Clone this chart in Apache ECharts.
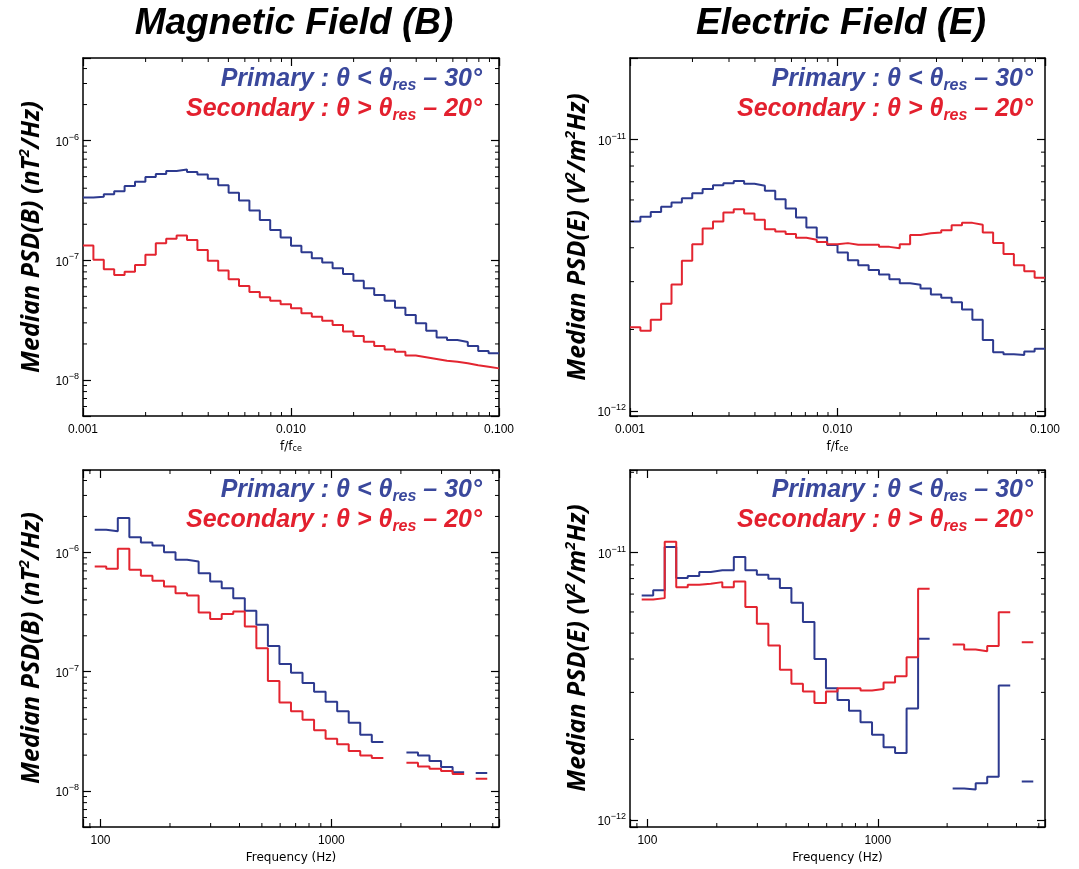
<!DOCTYPE html>
<html>
<head>
<meta charset="utf-8">
<script src="https://cdn.jsdelivr.net/npm/echarts@6/dist/echarts.min.js"></script>
<style>
  html, body { margin: 0; background: #fff; }
  #chart { width: 1079px; height: 869px; }
</style>
</head>
<body>
<div id="chart"></div>
<script>
// median PSD per 0.05-decade bin (null = no data in bin)
const magFcePrimary = [3.34e-7, 3.40e-7, 3.56e-7, 3.78e-7, 4.18e-7, 4.54e-7, 4.97e-7, 5.26e-7, 5.58e-7, 5.73e-7,
  5.47e-7, 5.20e-7, 4.81e-7, 4.23e-7, 3.66e-7, 3.16e-7, 2.60e-7, 2.17e-7, 1.79e-7, 1.55e-7,
  1.32e-7, 1.17e-7, 1.04e-7, 9.57e-8, 8.58e-8, 7.69e-8, 6.76e-8, 5.84e-8, 5.13e-8, 4.60e-8,
  4.02e-8, 3.49e-8, 2.98e-8, 2.58e-8, 2.26e-8, 2.16e-8, 2.08e-8, 1.92e-8, 1.75e-8, 1.67e-8];
const magFceSecondary = [1.33e-7, 1.01e-7, 8.41e-8, 7.54e-8, 8.04e-8, 9.14e-8, 1.11e-7, 1.39e-7, 1.51e-7, 1.61e-7,
  1.48e-7, 1.22e-7, 9.93e-8, 8.20e-8, 6.94e-8, 6.10e-8, 5.43e-8, 4.91e-8, 4.60e-8, 4.29e-8,
  3.97e-8, 3.61e-8, 3.38e-8, 3.13e-8, 2.88e-8, 2.54e-8, 2.33e-8, 2.09e-8, 1.92e-8, 1.80e-8,
  1.72e-8, 1.60e-8, 1.55e-8, 1.50e-8, 1.45e-8, 1.42e-8, 1.38e-8, 1.33e-8, 1.29e-8, 1.25e-8];
const elecFcePrimary = [5.00e-12, 5.20e-12, 5.42e-12, 5.66e-12, 5.87e-12, 6.09e-12, 6.35e-12, 6.58e-12, 6.80e-12, 6.92e-12,
  7.04e-12, 6.88e-12, 6.77e-12, 6.48e-12, 6.04e-12, 5.58e-12, 5.17e-12, 4.75e-12, 4.36e-12, 4.09e-12,
  3.84e-12, 3.60e-12, 3.45e-12, 3.31e-12, 3.19e-12, 3.06e-12, 2.96e-12, 2.92e-12, 2.83e-12, 2.69e-12,
  2.62e-12, 2.52e-12, 2.37e-12, 2.17e-12, 1.83e-12, 1.65e-12, 1.62e-12, 1.61e-12, 1.66e-12, 1.70e-12];
const elecFceSecondary = [2.04e-12, 1.98e-12, 2.17e-12, 2.49e-12, 2.93e-12, 3.58e-12, 4.12e-12, 4.71e-12, 5.00e-12, 5.39e-12,
  5.55e-12, 5.35e-12, 5.07e-12, 4.68e-12, 4.59e-12, 4.49e-12, 4.35e-12, 4.28e-12, 4.20e-12, 4.12e-12,
  4.16e-12, 4.10e-12, 4.10e-12, 4.10e-12, 4.03e-12, 3.98e-12, 4.12e-12, 4.46e-12, 4.52e-12, 4.55e-12,
  4.64e-12, 4.84e-12, 4.94e-12, 4.86e-12, 4.55e-12, 4.16e-12, 3.79e-12, 3.45e-12, 3.28e-12, 3.10e-12];

const magHzPrimary = [1.55e-6, 1.50e-6, 1.94e-6, 1.34e-6, 1.21e-6, 1.14e-6, 1.00e-6, 8.68e-7, 8.40e-7, 6.70e-7,
  5.71e-7, 5.01e-7, 4.13e-7, 3.24e-7, 2.47e-7, 1.64e-7, 1.16e-7, 9.81e-8, 8.03e-8, 6.79e-8,
  5.60e-8, 4.67e-8, 3.73e-8, 2.97e-8, 2.58e-8, null, null, 2.10e-8, 1.99e-8, 1.79e-8,
  1.59e-8, 1.44e-8, null, 1.42e-8];
const magHzSecondary = [7.63e-7, 7.29e-7, 1.07e-6, 7.15e-7, 6.37e-7, 5.78e-7, 5.18e-7, 4.55e-7, 4.35e-7, 3.13e-7,
  2.77e-7, 3.05e-7, 3.19e-7, 2.39e-7, 1.57e-7, 8.35e-8, 5.53e-8, 4.67e-8, 3.95e-8, 3.24e-8,
  2.75e-8, 2.47e-8, 2.17e-8, 1.99e-8, 1.89e-8, null, null, 1.73e-8, 1.61e-8, 1.54e-8,
  1.47e-8, 1.39e-8, null, 1.27e-8];
const elecHzPrimary = [6.92e-12, 7.23e-12, 1.05e-11, 8.04e-12, 8.18e-12, 8.46e-12, 8.59e-12, 8.59e-12, 9.63e-12, 8.59e-12,
  8.27e-12, 7.99e-12, 7.37e-12, 6.49e-12, 5.50e-12, 4.00e-12, 3.11e-12, 2.81e-12, 2.56e-12, 2.32e-12,
  2.08e-12, 1.87e-12, 1.78e-12, 2.61e-12, 4.76e-12, null, null, 1.31e-12, 1.30e-12, 1.37e-12,
  1.45e-12, 3.18e-12, null, 1.39e-12];
const elecHzSecondary = [6.68e-12, 6.76e-12, 1.10e-11, 7.43e-12, 7.59e-12, 7.65e-12, 7.76e-12, 7.43e-12, 7.81e-12, 6.26e-12,
  5.42e-12, 4.49e-12, 3.65e-12, 3.23e-12, 3.02e-12, 2.74e-12, 3.02e-12, 3.11e-12, 3.11e-12, 3.05e-12,
  3.09e-12, 3.27e-12, 3.45e-12, 4.06e-12, 7.33e-12, null, null, 4.53e-12, 4.34e-12, 4.28e-12,
  4.47e-12, 5.99e-12, null, 4.62e-12];

// bin edges: 20 bins per decade
const fceEdges = [];
for (let k = 0; k <= 40; k++) fceEdges.push(Math.pow(10, -3 + 0.05 * k));
const hzEdges = [];
for (let k = 0; k <= 34; k++) hzEdges.push(Math.pow(10, 1.975 + 0.05 * k));

const fceRange = [0.001, 0.1];
const hzRange = [84, 5320];
const magRange = [5e-9, 4.9e-6];
const elecRangeTop = [9.6e-13, 2.0e-11];
const elecRangeBottom = [9.4e-13, 2.04e-11];

const BLUE = "#2d3a8f";
const RED = "#e32530";
const BLUE_TEXT = "#3a489c";
const RED_TEXT = "#e3202e";

const grids = [
  { left: 83, top: 58, width: 416, height: 358 },
  { left: 630, top: 58, width: 415, height: 358 },
  { left: 83, top: 470, width: 416, height: 357 },
  { left: 630, top: 470, width: 415, height: 357 }
];

function stepData(edges, values) {
  const out = [];
  values.forEach((v, k) => {
    if (v == null) {
      out.push([edges[k], "-"]);
      return;
    }
    out.push([edges[k], v], [edges[k + 1], v]);
  });
  return out;
}

function minorValues(min, max) {
  const list = [];
  for (let e = Math.floor(Math.log10(min)); e <= Math.ceil(Math.log10(max)); e++) {
    for (let m = 2; m <= 9; m++) {
      const v = m * Math.pow(10, e);
      if (v > min && v < max) list.push(v);
    }
  }
  return list;
}

function isDecade(v) {
  const e = Math.log10(v);
  return Math.abs(e - Math.round(e)) < 1e-6;
}

const axisLine = { lineStyle: { color: "#000", width: 1.5 } };
const majorTick = { inside: true, length: 8, lineStyle: { color: "#000", width: 1.2 } };

function xAxisPair(i, range, formatter, name) {
  const base = {
    type: "log",
    logBase: 10,
    gridIndex: i,
    min: range[0],
    max: range[1],
    axisLine,
    axisTick: majorTick,
    splitLine: { show: false }
  };
  return [
    {
      ...base,
      position: "bottom",
      axisLabel: {
        margin: 8,
        color: "#000",
        fontSize: 12,
        fontFamily: "Liberation Sans",
        showMinLabel: true,
        showMaxLabel: true,
        formatter
      },
      name,
      nameLocation: "middle",
      nameGap: 25,
      nameTextStyle: {
        color: "#000",
        fontSize: 12,
        fontFamily: "DejaVu Sans",
        rich: { sub: { fontSize: 8, verticalAlign: "bottom", lineHeight: 10, fontFamily: "DejaVu Sans" } }
      }
    },
    { ...base, position: "top", axisLabel: { show: false } }
  ];
}

function yAxisPair(i, range) {
  const base = {
    type: "log",
    logBase: 10,
    gridIndex: i,
    min: range[0],
    max: range[1],
    axisLine,
    axisTick: majorTick,
    splitLine: { show: false }
  };
  return [
    {
      ...base,
      position: "left",
      axisLabel: {
        margin: 4,
        color: "#000",
        showMinLabel: true,
        showMaxLabel: true,
        formatter(v) {
          if (!isDecade(v)) return "";
          return "{b|10}{e|\u2212" + Math.abs(Math.round(Math.log10(v))) + "}";
        },
        rich: {
          b: { fontSize: 12, lineHeight: 16, verticalAlign: "bottom", fontFamily: "Liberation Sans", color: "#000" },
          e: { fontSize: 9, lineHeight: 9, verticalAlign: "top", fontFamily: "Liberation Sans", color: "#000" }
        }
      }
    },
    { ...base, position: "right", axisLabel: { show: false } }
  ];
}

function minorTickSeries(i, xRange, yRange) {
  const xs = minorValues(xRange[0], xRange[1]);
  const ys = minorValues(yRange[0], yRange[1]);
  return {
    type: "custom",
    xAxisIndex: 2 * i,
    yAxisIndex: 2 * i,
    silent: true,
    z: 5,
    data: [[xRange[0], yRange[0]]],
    renderItem(params, api) {
      const cs = params.coordSys;
      const style = { stroke: "#000", lineWidth: 1 };
      const children = [];
      const len = 4;
      xs.forEach((v) => {
        const x = api.coord([v, yRange[0]])[0];
        children.push({ type: "line", shape: { x1: x, y1: cs.y + cs.height, x2: x, y2: cs.y + cs.height - len }, style });
        children.push({ type: "line", shape: { x1: x, y1: cs.y, x2: x, y2: cs.y + len }, style });
      });
      ys.forEach((v) => {
        const y = api.coord([xRange[0], v])[1];
        children.push({ type: "line", shape: { x1: cs.x, y1: y, x2: cs.x + len, y2: y }, style });
        children.push({ type: "line", shape: { x1: cs.x + cs.width, y1: y, x2: cs.x + cs.width - len, y2: y }, style });
      });
      return { type: "group", children };
    }
  };
}

function lineSeries(i, edges, values, color) {
  return {
    type: "line",
    xAxisIndex: 2 * i,
    yAxisIndex: 2 * i,
    data: stepData(edges, values),
    symbol: "none",
    connectNulls: false,
    lineStyle: { color, width: 2 },
    z: 3
  };
}

const fceLabel = (v) => (isDecade(v) ? v.toFixed(3) : "");
const hzLabel = (v) => (isDecade(v) ? String(Math.round(v)) : "");
const fceName = "f/f{sub|ce}";
const hzName = "Frequency (Hz)";

const panels = [
  { x: fceRange, y: magRange, xFmt: fceLabel, xName: fceName, edges: fceEdges, p: magFcePrimary, s: magFceSecondary },
  { x: fceRange, y: elecRangeTop, xFmt: fceLabel, xName: fceName, edges: fceEdges, p: elecFcePrimary, s: elecFceSecondary },
  { x: hzRange, y: magRange, xFmt: hzLabel, xName: hzName, edges: hzEdges, p: magHzPrimary, s: magHzSecondary },
  { x: hzRange, y: elecRangeBottom, xFmt: hzLabel, xName: hzName, edges: hzEdges, p: elecHzPrimary, s: elecHzSecondary }
];

const xAxis = [];
const yAxis = [];
const series = [];
panels.forEach((panel, i) => {
  xAxis.push(...xAxisPair(i, panel.x, panel.xFmt, panel.xName));
  yAxis.push(...yAxisPair(i, panel.y));
  series.push(lineSeries(i, panel.edges, panel.p, BLUE));
  series.push(lineSeries(i, panel.edges, panel.s, RED));
  series.push(minorTickSeries(i, panel.x, panel.y));
});

// text overlays
const legendFont = "Liberation Sans";
function legendLines(rightX, y) {
  const rich = (color) => ({
    p: { fontSize: 25, lineHeight: 30, fontWeight: "bold", fontStyle: "italic", fontFamily: legendFont, fill: color, color },
    s: { fontSize: 16, lineHeight: 14, verticalAlign: "bottom", fontWeight: "bold", fontStyle: "italic", fontFamily: legendFont, fill: color, color }
  });
  return [
    {
      type: "text", x: rightX, y,
      style: { text: "{p|Primary : \u03b8 < \u03b8}{s|res}{p| \u2013 30\u00b0}", rich: rich(BLUE_TEXT), align: "right", verticalAlign: "middle", textAlign: "right", textVerticalAlign: "middle" }
    },
    {
      type: "text", x: rightX, y: y + 30,
      style: { text: "{p|Secondary : \u03b8 > \u03b8}{s|res}{p| \u2013 20\u00b0}", rich: rich(RED_TEXT), align: "right", verticalAlign: "middle", textAlign: "right", textVerticalAlign: "middle" }
    }
  ];
}

function yName(x, y, text) {
  const common = { fontWeight: "bold", fontStyle: "italic", fontFamily: "Open Sans", fill: "#000" };
  return {
    type: "text", x, y, rotation: Math.PI / 2,
    style: {
      text,
      rich: {
        t: { ...common, fontSize: 25, lineHeight: 30 },
        sup: { ...common, fontSize: 15, lineHeight: 15, verticalAlign: "top" }
      },
      align: "center", verticalAlign: "middle", textAlign: "center", textVerticalAlign: "middle"
    }
  };
}

function title(x, text) {
  return {
    type: "text", x, y: 24,
    style: {
      text,
      font: "italic bold 37px 'Liberation Sans', Arial, sans-serif",
      fill: "#000",
      align: "center", verticalAlign: "middle", textAlign: "center", textVerticalAlign: "middle"
    }
  };
}

const graphic = [
  title(294, "Magnetic Field (B)"),
  title(841, "Electric Field (E)"),
  yName(32, 237, "{t|Median PSD(B) (nT}{sup|2}{t|/Hz)}"),
  yName(578, 237, "{t|Median PSD(E) (V}{sup|2}{t|/m}{sup|2}{t|Hz)}"),
  yName(32, 648, "{t|Median PSD(B) (nT}{sup|2}{t|/Hz)}"),
  yName(578, 648, "{t|Median PSD(E) (V}{sup|2}{t|/m}{sup|2}{t|Hz)}"),
  ...legendLines(482, 79),
  ...legendLines(1033, 79),
  ...legendLines(482, 490),
  ...legendLines(1033, 490)
];

const chart = echarts.init(document.getElementById("chart"), null, { renderer: "canvas" });
chart.setOption({
  animation: false,
  backgroundColor: "#fff",
  grid: grids,
  xAxis,
  yAxis,
  series,
  graphic
});
</script>
</body>
</html>
